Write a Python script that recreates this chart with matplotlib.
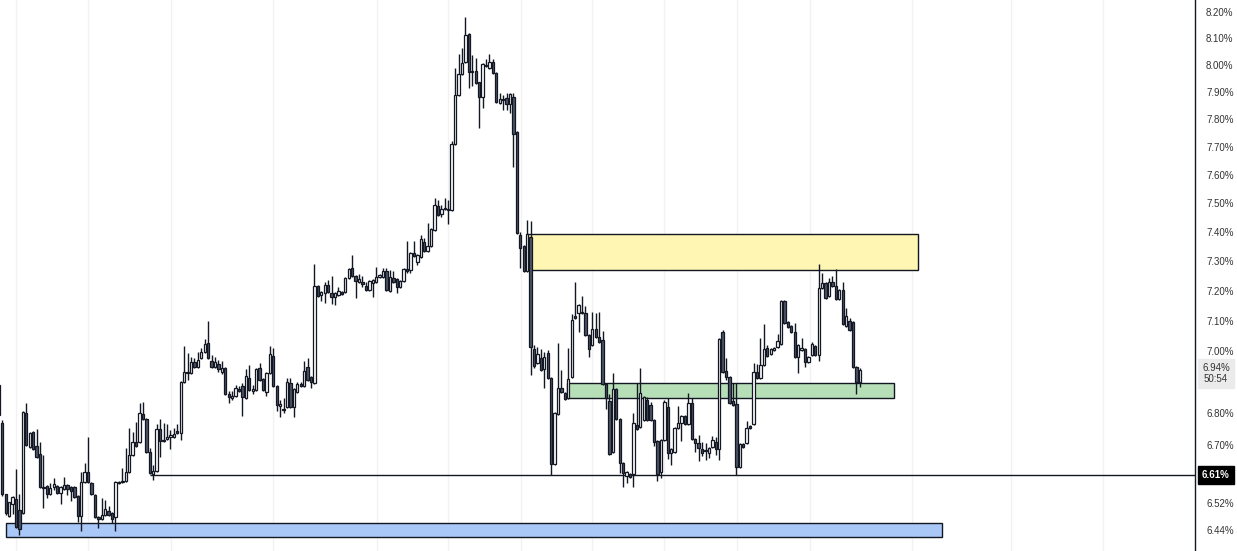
import numpy as np
import matplotlib
matplotlib.use('Agg')
import matplotlib.pyplot as plt
import matplotlib.transforms as mtransforms
from matplotlib.patches import Rectangle

plt.rcParams['font.family'] = ['Liberation Sans', 'DejaVu Sans']

# candle data (yield, %)
opens = [
    6.891, 6.769, 6.549, 6.482, 6.519, 6.534, 6.500, 6.491, 6.801, 6.694,
    6.741, 6.697, 6.672, 6.571, 6.574, 6.549, 6.571, 6.574, 6.552, 6.564,
    6.577, 6.571, 6.571, 6.543, 6.482, 6.586, 6.617, 6.583, 6.546, 6.479,
    6.473, 6.485, 6.497, 6.491, 6.479, 6.586, 6.586, 6.589, 6.617, 6.669,
    6.710, 6.710, 6.798, 6.782, 6.679, 6.610, 6.620, 6.751, 6.716, 6.719,
    6.726, 6.726, 6.744, 6.738, 6.900, 6.933, 6.929, 6.965, 6.949, 6.978,
    6.997, 7.027, 6.968, 6.949, 6.958, 6.933, 6.946, 6.862, 6.849, 6.855,
    6.878, 6.888, 6.849, 6.913, 6.871, 6.875, 6.946, 6.910, 6.868, 6.929,
    6.984, 6.888, 6.823, 6.814, 6.820, 6.897, 6.820, 6.868, 6.894, 6.888,
    6.949, 6.917, 6.897, 7.216, 7.187, 7.193, 7.220, 7.193, 7.180, 7.187,
    7.197, 7.197, 7.243, 7.277, 7.250, 7.230, 7.230, 7.216, 7.203, 7.226,
    7.230, 7.246, 7.246, 7.267, 7.200, 7.243, 7.240, 7.213, 7.233, 7.274,
    7.271, 7.328, 7.298, 7.315, 7.366, 7.335, 7.352, 7.407, 7.490, 7.463,
    7.480, 7.480, 7.477, 7.711, 7.889, 7.967, 8.011, 8.116, 7.978, 7.978,
    7.935, 7.882, 8.000, 7.989, 8.011, 7.970, 7.860, 7.875, 7.878, 7.856,
    7.882, 7.754, 7.390, 7.352, 7.267, 7.383, 7.007, 6.962, 6.978, 6.942,
    6.994, 6.913, 6.641, 6.798, 6.881, 6.865, 6.849, 6.917, 7.117, 7.127,
    7.130, 7.127, 7.053, 7.020, 7.074, 7.047, 7.037, 6.894, 6.839, 6.679,
    6.878, 6.782, 6.644, 6.604, 6.610, 6.610, 6.763, 6.757, 6.779, 6.843,
    6.827, 6.779, 6.713, 6.617, 6.716, 6.820, 6.676, 6.679, 6.754, 6.770,
    6.792, 6.767, 6.833, 6.719, 6.707, 6.688, 6.685, 6.676, 6.694, 6.710,
    6.688, 7.063, 6.936, 6.917, 6.839, 6.830, 6.632, 6.704, 6.707, 6.760,
    6.767, 6.933, 6.913, 6.955, 7.010, 6.991, 7.004, 7.014, 7.024, 7.167,
    7.097, 7.083, 7.063, 6.981, 7.004, 7.007, 6.965, 6.988, 7.017, 6.988,
    7.209, 7.226, 7.183, 7.230, 7.216, 7.173, 7.203, 7.083, 7.100, 7.097,
    6.949, 6.900,
]
highs = [
    6.913, 6.779, 6.549, 6.525, 6.543, 6.626, 6.549, 6.808, 6.833, 6.741,
    6.744, 6.751, 6.710, 6.669, 6.577, 6.583, 6.598, 6.577, 6.574, 6.601,
    6.580, 6.574, 6.574, 6.546, 6.617, 6.644, 6.726, 6.586, 6.549, 6.482,
    6.537, 6.531, 6.513, 6.494, 6.589, 6.589, 6.629, 6.691, 6.754, 6.741,
    6.773, 6.833, 6.836, 6.785, 6.691, 6.638, 6.767, 6.782, 6.770, 6.767,
    6.748, 6.754, 6.767, 6.903, 7.017, 6.994, 6.981, 6.978, 6.997, 7.010,
    7.040, 7.100, 6.988, 6.981, 6.971, 6.968, 6.949, 6.871, 6.871, 6.891,
    6.888, 6.897, 6.942, 6.955, 6.891, 6.946, 6.962, 6.913, 6.933, 7.017,
    7.010, 6.891, 6.843, 6.849, 6.913, 6.913, 6.881, 6.900, 6.900, 6.968,
    6.978, 6.920, 7.291, 7.220, 7.200, 7.230, 7.237, 7.250, 7.197, 7.213,
    7.200, 7.246, 7.277, 7.321, 7.253, 7.257, 7.250, 7.230, 7.237, 7.240,
    7.281, 7.257, 7.277, 7.277, 7.271, 7.267, 7.243, 7.237, 7.277, 7.369,
    7.332, 7.369, 7.325, 7.390, 7.380, 7.431, 7.414, 7.518, 7.511, 7.494,
    7.518, 7.511, 7.721, 7.989, 8.041, 8.063, 8.181, 8.120, 8.037, 8.026,
    7.938, 8.007, 8.022, 8.041, 8.022, 7.974, 7.896, 7.889, 7.896, 7.896,
    7.896, 7.757, 7.400, 7.356, 7.442, 7.438, 7.020, 7.014, 7.007, 6.997,
    7.004, 6.917, 6.805, 7.027, 6.939, 6.868, 7.010, 7.123, 7.230, 7.157,
    7.183, 7.150, 7.057, 7.130, 7.127, 7.130, 7.067, 6.897, 6.862, 6.929,
    6.881, 6.785, 6.647, 6.620, 6.613, 6.801, 6.897, 6.946, 6.855, 6.852,
    6.836, 6.782, 6.716, 6.719, 6.843, 6.849, 6.691, 6.757, 6.823, 6.795,
    6.795, 6.865, 6.849, 6.722, 6.732, 6.710, 6.707, 6.694, 6.729, 6.726,
    7.043, 7.070, 6.978, 6.920, 6.897, 6.897, 6.707, 6.707, 6.776, 6.763,
    6.962, 6.958, 7.043, 7.090, 7.020, 7.010, 7.014, 7.057, 7.170, 7.170,
    7.100, 7.087, 7.093, 7.024, 7.043, 7.010, 6.984, 7.030, 7.020, 7.291,
    7.260, 7.230, 7.243, 7.250, 7.274, 7.206, 7.230, 7.143, 7.110, 7.100,
    6.952, 6.946,
]
lows = [
    6.779, 6.543, 6.485, 6.479, 6.488, 6.446, 6.425, 6.488, 6.697, 6.691,
    6.685, 6.660, 6.567, 6.506, 6.537, 6.546, 6.561, 6.549, 6.519, 6.561,
    6.546, 6.528, 6.537, 6.464, 6.437, 6.583, 6.583, 6.546, 6.476, 6.446,
    6.470, 6.482, 6.482, 6.461, 6.437, 6.580, 6.583, 6.586, 6.614, 6.666,
    6.694, 6.707, 6.779, 6.676, 6.610, 6.592, 6.617, 6.663, 6.710, 6.716,
    6.688, 6.723, 6.735, 6.716, 6.897, 6.907, 6.926, 6.946, 6.946, 6.975,
    6.994, 6.975, 6.946, 6.946, 6.933, 6.926, 6.858, 6.833, 6.843, 6.852,
    6.868, 6.792, 6.846, 6.871, 6.862, 6.871, 6.904, 6.871, 6.855, 6.926,
    6.884, 6.808, 6.789, 6.801, 6.817, 6.817, 6.789, 6.865, 6.884, 6.884,
    6.904, 6.881, 6.894, 7.180, 7.167, 7.160, 7.193, 7.157, 7.153, 7.183,
    7.187, 7.193, 7.240, 7.246, 7.177, 7.226, 7.213, 7.200, 7.200, 7.180,
    7.226, 7.243, 7.243, 7.200, 7.197, 7.226, 7.193, 7.210, 7.230, 7.260,
    7.260, 7.315, 7.288, 7.311, 7.332, 7.332, 7.349, 7.403, 7.456, 7.452,
    7.477, 7.428, 7.473, 7.707, 7.885, 7.963, 8.007, 7.913, 7.920, 7.928,
    7.768, 7.842, 7.993, 7.985, 7.967, 7.860, 7.856, 7.834, 7.834, 7.823,
    7.629, 7.393, 7.277, 7.264, 7.264, 6.923, 6.946, 6.958, 6.936, 6.881,
    6.910, 6.607, 6.638, 6.795, 6.865, 6.843, 6.846, 6.913, 7.106, 7.063,
    7.123, 7.050, 6.981, 7.017, 7.043, 7.027, 6.891, 6.814, 6.669, 6.676,
    6.779, 6.613, 6.571, 6.583, 6.598, 6.571, 6.748, 6.754, 6.776, 6.776,
    6.776, 6.697, 6.589, 6.598, 6.713, 6.657, 6.638, 6.676, 6.751, 6.713,
    6.763, 6.763, 6.716, 6.679, 6.651, 6.666, 6.654, 6.660, 6.691, 6.669,
    6.654, 6.929, 6.907, 6.830, 6.823, 6.607, 6.629, 6.691, 6.704, 6.751,
    6.763, 6.910, 6.910, 6.952, 6.981, 6.988, 7.000, 7.010, 7.020, 7.090,
    7.077, 7.060, 6.978, 6.929, 7.000, 6.949, 6.962, 6.984, 6.984, 6.968,
    7.206, 7.173, 7.180, 7.213, 7.170, 7.170, 7.087, 7.080, 7.067, 6.946,
    6.862, 6.884,
]
closes = [
    6.795, 6.549, 6.491, 6.525, 6.540, 6.449, 6.443, 6.805, 6.700, 6.738,
    6.688, 6.663, 6.571, 6.567, 6.549, 6.567, 6.580, 6.552, 6.571, 6.577,
    6.564, 6.558, 6.540, 6.482, 6.586, 6.617, 6.586, 6.549, 6.479, 6.473,
    6.485, 6.503, 6.485, 6.473, 6.586, 6.583, 6.589, 6.617, 6.669, 6.710,
    6.697, 6.801, 6.782, 6.679, 6.613, 6.620, 6.751, 6.713, 6.713, 6.726,
    6.732, 6.735, 6.738, 6.900, 6.933, 6.929, 6.965, 6.949, 6.971, 6.997,
    7.024, 6.978, 6.949, 6.965, 6.942, 6.946, 6.862, 6.852, 6.855, 6.881,
    6.871, 6.852, 6.920, 6.875, 6.878, 6.942, 6.907, 6.875, 6.929, 6.991,
    6.888, 6.827, 6.830, 6.811, 6.900, 6.820, 6.878, 6.894, 6.888, 6.936,
    6.907, 6.900, 7.216, 7.183, 7.197, 7.220, 7.197, 7.180, 7.193, 7.200,
    7.190, 7.243, 7.274, 7.250, 7.233, 7.240, 7.223, 7.203, 7.233, 7.237,
    7.246, 7.253, 7.267, 7.203, 7.246, 7.230, 7.213, 7.233, 7.274, 7.267,
    7.328, 7.318, 7.321, 7.376, 7.335, 7.352, 7.410, 7.494, 7.459, 7.480,
    7.484, 7.477, 7.711, 7.889, 7.967, 8.007, 8.112, 7.974, 7.974, 7.931,
    7.882, 8.003, 7.996, 8.011, 7.970, 7.864, 7.875, 7.871, 7.856, 7.893,
    7.746, 7.397, 7.345, 7.267, 7.393, 7.014, 6.952, 6.991, 6.939, 6.981,
    6.913, 6.641, 6.801, 6.881, 6.868, 6.846, 6.910, 7.103, 7.110, 7.153,
    7.127, 7.053, 7.007, 7.074, 7.047, 7.030, 6.894, 6.849, 6.672, 6.878,
    6.782, 6.644, 6.613, 6.617, 6.601, 6.770, 6.751, 6.865, 6.852, 6.779,
    6.779, 6.710, 6.610, 6.716, 6.836, 6.676, 6.688, 6.754, 6.770, 6.792,
    6.767, 6.833, 6.719, 6.707, 6.691, 6.676, 6.682, 6.691, 6.716, 6.688,
    7.040, 6.933, 6.917, 6.833, 6.827, 6.632, 6.704, 6.694, 6.754, 6.754,
    6.933, 6.913, 6.955, 7.007, 6.984, 7.007, 7.010, 7.034, 7.167, 7.093,
    7.080, 7.063, 6.981, 7.020, 7.010, 6.965, 6.981, 7.024, 6.988, 7.209,
    7.226, 7.177, 7.230, 7.216, 7.173, 7.203, 7.090, 7.117, 7.070, 6.949,
    6.900, 6.939,
]

# zones drawn on the chart (price top/bottom, candle index start/end)
zone_top = [7.393, 6.897, 6.461]
zone_bottom = [7.271, 6.849, 6.419]
zone_start = [154.0, 165.6, 2.1]
zone_end = [268.0, 261.0, 275.0]
zone_colors = ['#fff6b3', '#b6dfb7', '#a9c7f7']

level_price = 6.607
level_start = 44
level_label = '6.61%'
last_label = '6.94%\n50:54'
last_price = 6.94

tick_values = [8.20, 8.10, 8.00, 7.90, 7.80, 7.70, 7.60, 7.50, 7.40, 7.30,
               7.20, 7.10, 7.00, 6.80, 6.70, 6.52, 6.44]
grid_x = [5.0, 26.0, 50.2, 79.9, 110.2, 130.9, 152.2, 172.9, 193.9, 215.2,
          236.5, 266.2, 295.0, 322.0]

edge = '#131722'
down_col = '#4c5467'

fig = plt.figure(figsize=(12.37, 5.51), dpi=100)
ax = fig.add_axes([0, 0, 1195 / 1237, 1])
ax.set_yscale('log')
ax.set_xlim(0.33, 348.7)
ax.set_ylim(6.377, 8.246)

for gx in grid_x:
    ax.axvline(gx, color='#f2f2f4', lw=1, zorder=0)

for t, b, s, e, col in zip(zone_top, zone_bottom, zone_start, zone_end, zone_colors):
    ax.add_patch(Rectangle((s, b), e - s, t - b, facecolor=col, edgecolor=edge,
                           lw=1, zorder=1))

ax.hlines(level_price, level_start, 348.7, color=edge, lw=1, zorder=2)

o = np.array(opens)
h = np.array(highs)
l = np.array(lows)
c = np.array(closes)
idx = np.arange(len(o))
up = c >= o
ax.vlines(idx, l, h, color=edge, lw=1, zorder=3)
bottoms = np.minimum(o, c)
heights = np.maximum(np.abs(c - o), 0.002)
ax.bar(idx, heights, bottom=bottoms, width=0.68,
       color=np.where(up, 'white', down_col), edgecolor=edge, lw=0.9, zorder=4)

ax.set_yticks(tick_values)
ax.set_yticklabels(['%.2f%%' % v for v in tick_values])
ax.yaxis.set_minor_locator(matplotlib.ticker.NullLocator())
ax.yaxis.tick_right()
ax.tick_params(axis='y', length=0, pad=8, labelsize=7, labelcolor='#333333')
ax.set_xticks([])
for side in ['left', 'top', 'bottom']:
    ax.spines[side].set_visible(False)
ax.spines['right'].set_color(edge)
ax.spines['right'].set_linewidth(1)

# price labels on the axis
trans = mtransforms.blended_transform_factory(ax.transAxes, ax.transData)
for_label = 1216.0 / 1195.0
ax.text(for_label, level_price, level_label, transform=trans, ha='center', va='center',
        fontsize=7, fontweight='bold', color='white', clip_on=False,
        bbox=dict(boxstyle='square,pad=0.45', fc='black', ec='black'))
ax.text(for_label, last_price - 0.012, last_label, transform=trans, ha='center',
        va='center', multialignment='center', fontsize=7, color='#333333',
        clip_on=False, linespacing=1.1,
        bbox=dict(boxstyle='square,pad=0.45', fc='#ebebeb', ec='#ebebeb'))

fig.savefig('out.png', dpi=100)
